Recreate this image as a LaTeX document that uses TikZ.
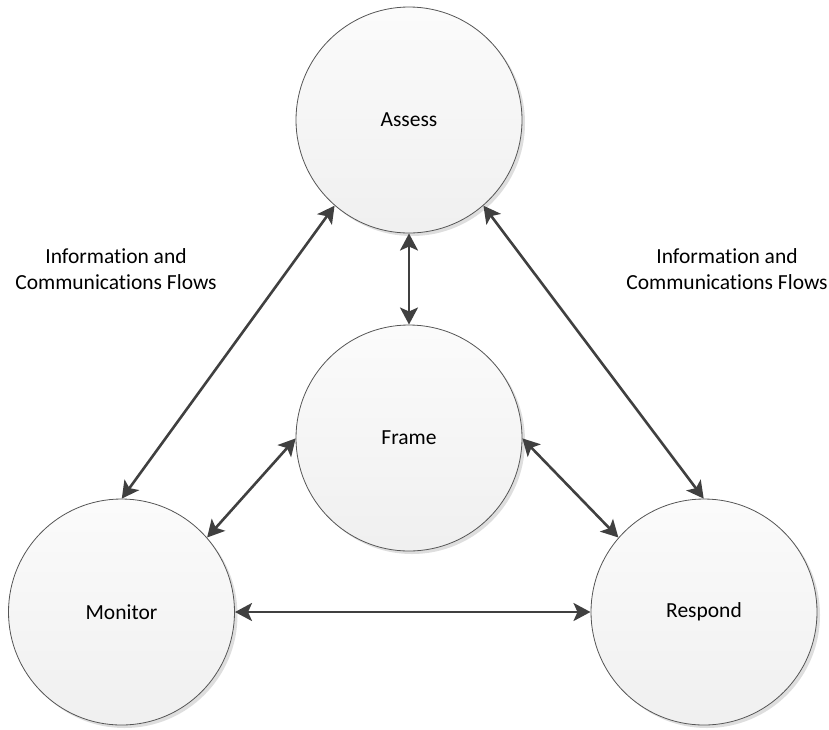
\documentclass[tikz,border=0pt]{standalone}
\usepackage{fontspec}
\setmainfont{Carlito}[Ligatures={NoCommon}]
\usetikzlibrary{arrows.meta,shadows}
\definecolor{arrowgray}{HTML}{404040}
\definecolor{rimgray}{HTML}{555555}
\tikzset{
  phase/.style={circle, minimum size=226pt, inner sep=0pt, outer sep=0pt,
    draw=rimgray, line width=0.8pt, top color=white!98.5!black, bottom color=white!94!black,
    drop shadow={shadow xshift=3pt, shadow yshift=-3pt, opacity=0.13, fill=black},
    font=\fontsize{21.5}{26}\selectfont},
  flow/.style={draw=arrowgray, line width=2.6pt,
    {Stealth[length=17pt,width=18pt,inset=4pt]}-{Stealth[length=17pt,width=18pt,inset=4pt]},
    shorten <=0.5pt, shorten >=0.5pt},
  note/.style={align=center, font=\fontsize{21.5}{26.5}\selectfont}
}
\begin{document}
\begin{tikzpicture}[x=1pt,y=-1pt]
  \useasboundingbox (0,0) rectangle (829,729);
  \node[phase] (assess)  at (409,120) {Assess};
  \node[phase] (frame)   at (409,438) {Frame};
  \node[phase] (monitor) at (121.5,612) {Monitor};
  \node[phase] (respond) at (704,612) {Respond};

  \draw[flow] (assess.270) -- (frame.90);
  \draw[flow] (assess.229) -- (monitor.90);
  \draw[flow] (assess.311) -- (respond.90);
  \draw[flow] (frame.180) -- (monitor.41);
  \draw[flow] (frame.0) -- (respond.139);
  \draw[flow] (monitor.0) -- (respond.180);

  \node[note] (leftnote)  at (116,269) {Information and\\Communications Flows};
  \node[note] (rightnote) at (727,269) {Information and\\Communications Flows};
\end{tikzpicture}
\end{document}
